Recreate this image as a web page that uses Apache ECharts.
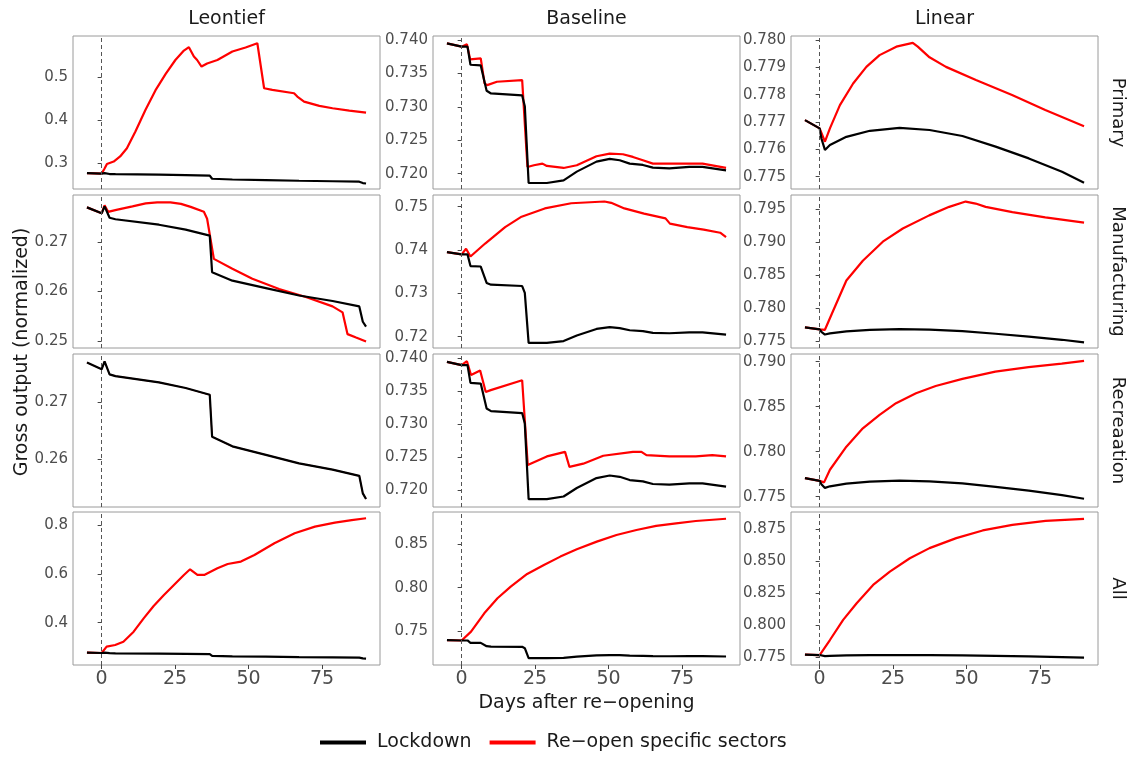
<!DOCTYPE html>
<html><head><meta charset="utf-8">
<script src="https://cdn.jsdelivr.net/npm/echarts@6/dist/echarts.min.js"></script>
<style>html,body{margin:0;padding:0;background:#fff}#c{width:1132px;height:758px}</style>
</head><body><div id="c"></div>
<script>
// ---------- data ----------
const models = ['Leontief', 'Baseline', 'Linear'];
const sectors = ['Primary', 'Manufacturing', 'Recreaation', 'All'];
const seriesNames = ['Lockdown', 'Re\u2212open specific sectors'];
const xTicks = ['0', '25', '50', '75'];
const xDomain = [-9.75, 94.75];
const xTitle = 'Days after re\u2212opening';
const yTitle = 'Gross output (normalized)';

// Lockdown scenario (same in every row of a column) : [day, gross output]
const lockLeontief = [[-5,0.2770],[0,0.2758],[1,0.2772],[2.7,0.2749],[4.7,0.2746],[19.5,0.2735],[28.6,0.2725],[36.8,0.2713],[37.6,0.2639],[44.5,0.2622],[55.9,0.2607],[67.2,0.2592],[78.6,0.2581],[87.7,0.2570],[88.9,0.2539],[90,0.2529]];
const lockBaseline = [[-5,0.7395],[0,0.7390],[2,0.7390],[3,0.7363],[6.5,0.7362],[8.5,0.7324],[10,0.7320],[20.6,0.7317],[21.5,0.7301],[22.8,0.7186],[29,0.7186],[34.7,0.7190],[39.2,0.7203],[45.9,0.7218],[50.4,0.7222],[53.8,0.7220],[57.2,0.7215],[61.7,0.7213],[65.1,0.7209],[70.7,0.7208],[77.5,0.7210],[82,0.7210],[90,0.7205]];
const lockLinear = [[-5,0.77707],[0,0.77677],[0.6,0.7764],[1.8,0.77598],[3.5,0.77616],[9.1,0.77646],[17.1,0.77668],[27.2,0.77679],[37.4,0.77671],[48.6,0.77649],[59.9,0.7761],[71.2,0.77567],[82.5,0.77518],[90,0.77478]];

// Re-open specific sectors
const redLeontiefPrimary = [[-5,0.2770],[0,0.2758],[1,0.288],[1.8,0.2985],[4.1,0.304],[6.3,0.316],[8.6,0.335],[11.5,0.374],[14.9,0.4245],[18.3,0.470],[21.8,0.5086],[25.1,0.541],[28.0,0.563],[29.7,0.571],[31.4,0.549],[32.5,0.541],[34.0,0.5257],[35.9,0.533],[39.4,0.541],[44.5,0.5607],[49.0,0.570],[53.0,0.580],[55.3,0.475],[58.1,0.4712],[65.5,0.4634],[66.6,0.4556],[68.9,0.444],[74.1,0.434],[78.6,0.4284],[84.3,0.423],[90,0.418]];
const redLeontiefManufacturing = [[-5,0.2770],[0,0.2758],[1,0.2774],[2.2,0.2761],[5,0.2765],[10.5,0.2772],[15,0.2778],[18.9,0.2780],[23.4,0.2780],[27,0.2777],[30.3,0.2771],[34.8,0.2761],[35.9,0.2747],[38.2,0.2666],[44.5,0.2646],[51.3,0.2626],[60.4,0.2605],[69.5,0.2589],[78.6,0.2570],[82.0,0.2558],[83.7,0.2514],[86.6,0.2507],[90,0.2499]];
const redLeontiefRecreation = [[-5,0.2770],[0,0.2758],[1,0.2772],[2.7,0.2749],[4.7,0.2746],[19.5,0.2735],[28.6,0.2725],[36.8,0.2713],[37.6,0.2639],[44.5,0.2622],[55.9,0.2607],[67.2,0.2592],[78.6,0.2581],[87.7,0.2570],[88.9,0.2539],[90,0.2529]];
const redLeontiefAll = [[-5,0.2770],[0,0.2758],[1.7,0.3017],[4.6,0.3085],[7.4,0.322],[10.9,0.363],[14.3,0.4177],[17.7,0.468],[21.2,0.5133],[24.6,0.5543],[28.0,0.5952],[30.1,0.6184],[32.6,0.5952],[34.9,0.5952],[39.4,0.6225],[42.9,0.640],[47.4,0.650],[52.0,0.6771],[58.8,0.7249],[65.7,0.7659],[72.6,0.7932],[79.4,0.8096],[85.1,0.820],[90,0.8273]];

const redBaselinePrimary = [[-5,0.7395],[0,0.7390],[1.8,0.73935],[2.9,0.7371],[6.5,0.73725],[7.8,0.7335],[8.7,0.73325],[12,0.73375],[20.6,0.7340],[22.4,0.7210],[24.6,0.72125],[27.5,0.7215],[29,0.72115],[34.7,0.72085],[39.2,0.72125],[45.9,0.7226],[50.4,0.7230],[54.9,0.7229],[58.3,0.7225],[61.7,0.7220],[65.1,0.7215],[70.7,0.7215],[82,0.7215],[90,0.72085]];
const redBaselineManufacturing = [[-5,0.7395],[0,0.7390],[1.5,0.7403],[3,0.7385],[8,0.7415],[14.8,0.7453],[20.4,0.7477],[28.3,0.7496],[37.3,0.7508],[48.6,0.7512],[50.9,0.7509],[55.4,0.7496],[62.1,0.7484],[69.4,0.7473],[70.9,0.7461],[76.8,0.7453],[82.4,0.7447],[88,0.7440],[90,0.7430]];
const redBaselineRecreation = [[-5,0.7395],[0,0.7390],[1.8,0.7396],[3.2,0.7375],[6.3,0.7382],[8.2,0.7349],[9.9,0.7352],[20.6,0.7367],[22.5,0.7238],[29,0.7251],[35.2,0.7258],[36.7,0.7235],[41.4,0.7240],[48.2,0.7252],[58.3,0.7258],[61.2,0.7258],[62.9,0.7253],[70.7,0.7251],[79.7,0.7251],[85.3,0.7253],[90,0.7251]];
const redBaselineAll = [[-5,0.7395],[0,0.7390],[3.2,0.7492],[7.7,0.7704],[12.2,0.7877],[16.7,0.8012],[22.3,0.8158],[28,0.8262],[33.6,0.8358],[39.2,0.8442],[46,0.8531],[52.7,0.8608],[59.5,0.8665],[66.2,0.8712],[73,0.8742],[79.7,0.8769],[90,0.8795]];

const redLinearPrimary = [[-5,0.77707],[0,0.77677],[1.8,0.77628],[3.5,0.77677],[6.9,0.77762],[11.4,0.77841],[15.9,0.77902],[20.4,0.77945],[26.1,0.77976],[31.7,0.7799],[33.4,0.77976],[37.4,0.77937],[43,0.77902],[53.2,0.77854],[65.5,0.77799],[76.8,0.77744],[90,0.77685]];
const redLinearManufacturing = [[-5,0.77707],[0,0.77677],[1.8,0.7767],[4.6,0.7796],[9.1,0.7842],[14.7,0.7872],[21.5,0.7901],[28.3,0.7921],[37.3,0.7941],[44.1,0.7954],[49.7,0.7962],[53.1,0.7959],[56.5,0.7954],[65.6,0.7946],[76.8,0.7938],[90,0.7930]];
const redLinearRecreation = [[-5,0.77707],[0,0.77677],[1.5,0.7766],[3.5,0.7780],[9.1,0.78056],[14.7,0.7826],[20.4,0.7841],[26,0.7854],[32.8,0.7865],[39.5,0.7873],[48.6,0.7881],[59.8,0.7889],[71.1,0.7894],[82.4,0.7898],[90,0.7901]];
const redLinearAll = [[-5,0.77707],[0,0.77677],[3.5,0.7885],[8,0.8042],[12.6,0.8172],[18.2,0.8315],[23.9,0.8419],[30.7,0.8523],[37.4,0.8602],[46.5,0.868],[55.5,0.874],[65.6,0.8784],[76.9,0.8815],[90,0.8831]];

// y scales (free per panel) and tick labels
const yDomLeontiefPrimary = [0.240, 0.597];        const yTicksLeontiefPrimary = ['0.3','0.4','0.5'];
const yDomBaselinePrimary = [0.7177, 0.7406];      const yTicksBaselinePrimary = ['0.720','0.725','0.730','0.735','0.740'];
const yDomLinearPrimary = [0.77455, 0.78015];      const yTicksLinearPrimary = ['0.775','0.776','0.777','0.778','0.779','0.780'];
const yDomLeontiefManufacturing = [0.2486, 0.2795]; const yTicksLeontiefManufacturing = ['0.25','0.26','0.27'];
const yDomBaselineManufacturing = [0.7174, 0.7527]; const yTicksBaselineManufacturing = ['0.72','0.73','0.74','0.75'];
const yDomLinearManufacturing = [0.77393, 0.7972];  const yTicksLinearManufacturing = ['0.775','0.780','0.785','0.790','0.795'];
const yDomLeontiefRecreation = [0.2515, 0.2785];    const yTicksLeontiefRecreation = ['0.26','0.27'];
const yDomBaselineRecreation = [0.7174, 0.7407];    const yTicksBaselineRecreation = ['0.720','0.725','0.730','0.735','0.740'];
const yDomLinearRecreation = [0.77386, 0.79086];    const yTicksLinearRecreation = ['0.775','0.780','0.785','0.790'];
const yDomLeontiefAll = [0.2266, 0.853];            const yTicksLeontiefAll = ['0.4','0.6','0.8'];
const yDomBaselineAll = [0.7107, 0.8873];           const yTicksBaselineAll = ['0.75','0.80','0.85'];
const yDomLinearAll = [0.769, 0.8884];              const yTicksLinearAll = ['0.775','0.800','0.825','0.850','0.875'];

// ---------- assembly ----------
const panels = [
  [lockLeontief, redLeontiefPrimary, yDomLeontiefPrimary, yTicksLeontiefPrimary],
  [lockBaseline, redBaselinePrimary, yDomBaselinePrimary, yTicksBaselinePrimary],
  [lockLinear, redLinearPrimary, yDomLinearPrimary, yTicksLinearPrimary],
  [lockLeontief, redLeontiefManufacturing, yDomLeontiefManufacturing, yTicksLeontiefManufacturing],
  [lockBaseline, redBaselineManufacturing, yDomBaselineManufacturing, yTicksBaselineManufacturing],
  [lockLinear, redLinearManufacturing, yDomLinearManufacturing, yTicksLinearManufacturing],
  [lockLeontief, redLeontiefRecreation, yDomLeontiefRecreation, yTicksLeontiefRecreation],
  [lockBaseline, redBaselineRecreation, yDomBaselineRecreation, yTicksBaselineRecreation],
  [lockLinear, redLinearRecreation, yDomLinearRecreation, yTicksLinearRecreation],
  [lockLeontief, redLeontiefAll, yDomLeontiefAll, yTicksLeontiefAll],
  [lockBaseline, redBaselineAll, yDomBaselineAll, yTicksBaselineAll],
  [lockLinear, redLinearAll, yDomLinearAll, yTicksLinearAll]
];

const FONT = 'DejaVu Sans';
const colLeft = [73, 433, 791];
const rowTop = [36, 195, 354, 512];
const PW = 307, PH = 153;

// red drawn beneath black; where the two paths coincide, keep red fully hidden
const samePath = (a, b) => a.length === b.length && a.every((p, k) => p[0] === b[k][0] && p[1] === b[k][1]);

const grids = [], xAxes = [], yAxes = [], series = [];
panels.forEach((p, i) => {
  const r = Math.floor(i / 3), c = i % 3;
  const [lock, red, dom, ticks] = p;
  const bottom = r === 3;
  grids.push({left: colLeft[c], top: rowTop[r], width: PW, height: PH,
    show: true, borderColor: '#9a9a9a', borderWidth: 1, backgroundColor: '#fff'});
  const xt = xTicks.map(Number);
  xAxes.push({type: 'value', gridIndex: i, min: xDomain[0], max: xDomain[1],
    axisLine: {show: false}, splitLine: {show: false},
    axisTick: {show: bottom, customValues: xt, length: 4, lineStyle: {color: '#444'}},
    axisLabel: {show: bottom, customValues: xt, fontSize: 19, color: '#4d4d4d', fontFamily: FONT, margin: 5,
      formatter: v => { const s = xTicks.find(t => Math.abs(Number(t) - v) < 1e-9); return s === undefined ? '' : s; }}
  });
  const yt = ticks.map(Number);
  yAxes.push({type: 'value', gridIndex: i, min: dom[0], max: dom[1], scale: true,
    axisLine: {show: false}, splitLine: {show: false},
    axisTick: {show: true, customValues: yt, length: 4, lineStyle: {color: '#444'}},
    axisLabel: {show: true, customValues: yt, fontSize: 15, color: '#4d4d4d', fontFamily: FONT, margin: 5,
      formatter: v => { const s = ticks.find(t => Math.abs(Number(t) - v) < 1e-9); return s === undefined ? '' : s; }}
  });
  const hidden = samePath(red, lock);
  series.push({type: 'line', name: seriesNames[1], xAxisIndex: i, yAxisIndex: i, data: red,
    showSymbol: false, symbol: 'none', color: '#ff0000', lineStyle: {width: hidden ? 1.2 : 2.2, color: '#ff0000'},
    animation: false, z: 2,
    markLine: {silent: true, symbol: ['none', 'none'], animation: false,
      lineStyle: {type: [4, 3], color: '#555', width: 1}, label: {show: false},
      data: [{xAxis: 0}]}
  });
  series.push({type: 'line', name: seriesNames[0], xAxisIndex: i, yAxisIndex: i, data: lock,
    showSymbol: false, symbol: 'none', color: '#000000', lineStyle: {width: 2.2, color: '#000000'},
    animation: false, z: 3});
});

const graphics = [];
models.forEach((m, c) => graphics.push({type: 'text', x: colLeft[c] + PW / 2, y: 19,
  style: {text: m, font: '19px ' + FONT, fill: '#1a1a1a', align: 'center', verticalAlign: 'middle'}}));
sectors.forEach((s, r) => graphics.push({type: 'text', x: 1118, y: rowTop[r] + PH / 2, rotation: -Math.PI / 2,
  style: {text: s, font: '18px ' + FONT, fill: '#1a1a1a', align: 'center', verticalAlign: 'middle'}}));
graphics.push({type: 'text', x: 22, y: 352, rotation: Math.PI / 2,
  style: {text: yTitle, font: '19px ' + FONT, fill: '#1a1a1a', align: 'center', verticalAlign: 'middle'}});
graphics.push({type: 'text', x: colLeft[1] + PW / 2, y: 703,
  style: {text: xTitle, font: '19px ' + FONT, fill: '#1a1a1a', align: 'center', verticalAlign: 'middle'}});

const chart = echarts.init(document.getElementById('c'), null, {renderer: 'canvas'});
chart.setOption({
  backgroundColor: '#fff',
  animation: false,
  grid: grids, xAxis: xAxes, yAxis: yAxes, series: series,
  legend: {data: [seriesNames[0], seriesNames[1]], left: 320, top: 733, icon: 'rect',
    itemWidth: 46, itemHeight: 4, itemGap: 18, selectedMode: false, padding: 0,
    textStyle: {fontSize: 19, fontFamily: FONT, color: '#1a1a1a', padding: [0, 0, 0, 6]}},
  graphic: graphics
});
</script></body></html>
